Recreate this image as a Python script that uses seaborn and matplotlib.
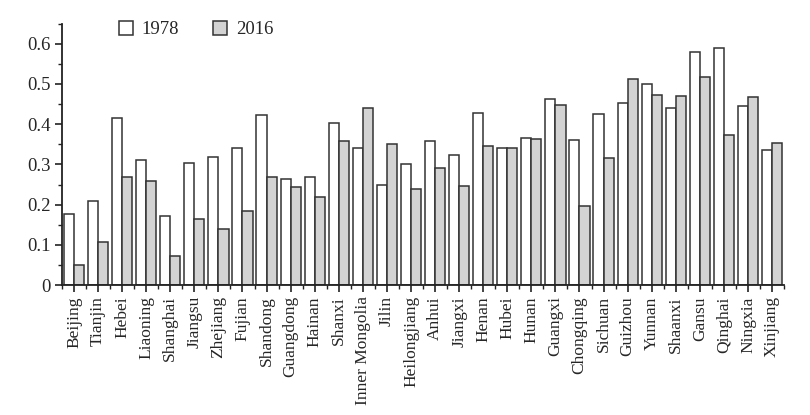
import pandas as pd
import numpy as np
import seaborn as sns
import matplotlib.pyplot as plt
from matplotlib.ticker import MultipleLocator, FixedLocator

provinces = ['Beijing', 'Tianjin', 'Hebei', 'Liaoning', 'Shanghai', 'Jiangsu', 'Zhejiang',
             'Fujian', 'Shandong', 'Guangdong', 'Hainan', 'Shanxi', 'Inner Mongolia', 'Jilin',
             'Heilongjiang', 'Anhui', 'Jiangxi', 'Henan', 'Hubei', 'Hunan', 'Guangxi',
             'Chongqing', 'Sichuan', 'Guizhou', 'Yunnan', 'Shaanxi', 'Gansu', 'Qinghai',
             'Ningxia', 'Xinjiang']

values_1978 = [0.177, 0.209, 0.415, 0.310, 0.172, 0.304, 0.318, 0.341, 0.423, 0.264,
               0.269, 0.402, 0.341, 0.250, 0.300, 0.358, 0.323, 0.429, 0.341, 0.365,
               0.463, 0.360, 0.426, 0.453, 0.501, 0.440, 0.580, 0.589, 0.445, 0.337]
values_2016 = [0.049, 0.107, 0.269, 0.259, 0.072, 0.164, 0.139, 0.185, 0.269, 0.243,
               0.218, 0.358, 0.440, 0.350, 0.238, 0.290, 0.247, 0.346, 0.341, 0.363,
               0.449, 0.196, 0.317, 0.512, 0.473, 0.471, 0.518, 0.372, 0.467, 0.354]
years = ['1978', '2016']

sns.set_style('ticks')
plt.rcParams['font.family'] = 'serif'
plt.rcParams['font.serif'] = ['Liberation Serif']

df = pd.DataFrame({
    'province': provinces * 2,
    'value': values_1978 + values_2016,
    'year': [years[0]] * len(provinces) + [years[1]] * len(provinces),
})

fig = plt.figure(figsize=(8.1, 4.15), dpi=100)
ax = fig.add_axes([0.0765, 0.313, 0.8915, 0.63])

sns.barplot(data=df, x='province', y='value', hue='year', order=provinces,
            palette=['white', '#d3d3d3'], edgecolor='#333333', linewidth=1.1,
            width=0.84, ax=ax)

ax.set_xlim(-0.5, len(provinces) - 0.5)
ax.set_ylim(0, 0.65)
ax.yaxis.set_minor_locator(MultipleLocator(0.05))
ax.set_yticks([0, 0.1, 0.2, 0.3, 0.4, 0.5, 0.6])
ax.set_yticklabels(['0', '0.1', '0.2', '0.3', '0.4', '0.5', '0.6'], fontsize=13.5)
ax.xaxis.set_minor_locator(FixedLocator(np.arange(-0.5, len(provinces), 1.0)))
ax.set_xticks(range(len(provinces)))
ax.set_xticklabels(provinces, rotation=90, fontsize=12.5)
ax.tick_params(axis='both', which='major', length=5, width=1.2, color='#222222', pad=3)
ax.tick_params(axis='both', which='minor', length=3, width=1.0, color='#222222')
ax.set_xlabel('')
ax.set_ylabel('')
for s in ['top', 'right']:
    ax.spines[s].set_visible(False)
for s in ['left', 'bottom']:
    ax.spines[s].set_linewidth(1.3)
    ax.spines[s].set_color('#222222')

ax.legend(loc='upper left', bbox_to_anchor=(0.055, 1.075), ncol=2, frameon=False,
          fontsize=13.5, handlelength=0.75, handleheight=0.75, columnspacing=1.85,
          handletextpad=0.45)

fig.savefig('out.png', dpi=100)
